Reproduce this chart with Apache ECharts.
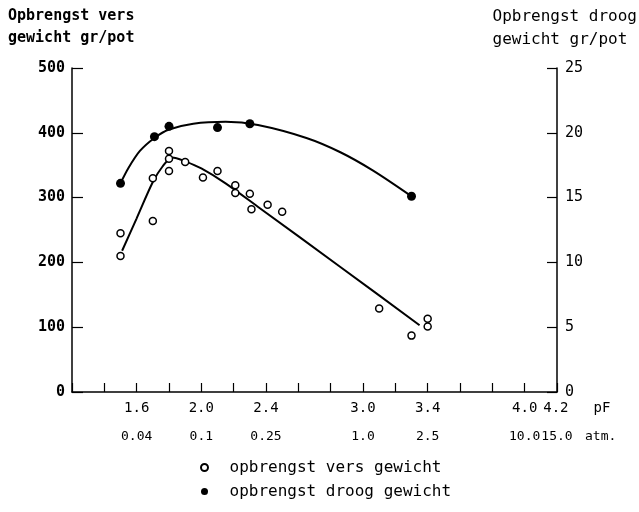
<!DOCTYPE html>
<html>
<head>
<meta charset="utf-8">
<script src="https://cdn.jsdelivr.net/npm/echarts@6/dist/echarts.min.js"></script>
<style>
  html, body { margin: 0; padding: 0; background: #fff; }
  #result { width: 639px; height: 512px; }
</style>
</head>
<body>
<div id="result"></div>
<script>
// ---- data ----
// opbrengst vers gewicht (gr/pot, left axis): [pF, value]
var versPoints = [
    [1.50, 245], [1.50, 210], [1.70, 330], [1.70, 264], [1.80, 372], [1.80, 360],
    [1.80, 341], [1.90, 355], [2.01, 331], [2.10, 341], [2.21, 319], [2.21, 307],
    [2.30, 306], [2.31, 282], [2.41, 289], [2.50, 278], [3.10, 129], [3.40, 113],
    [3.40, 101], [3.30, 87]
];
// opbrengst droog gewicht (gr/pot, right axis)
var droogPoints = [
    [1.50, 16.1], [1.71, 19.7], [1.80, 20.5], [2.10, 20.4], [2.30, 20.7], [3.30, 15.1]
];
// hand drawn curves
var versCurve = [
    [1.51, 218], [1.60, 268], [1.70, 324], [1.76, 348], [1.82, 362], [1.90, 356],
    [2.00, 345], [2.15, 322], [2.36, 284], [2.86, 193], [3.35, 103]
];
var droogCurve = [
    [1.50, 16.1], [1.55, 17.3], [1.62, 18.6], [1.71, 19.6], [1.80, 20.25], [1.95, 20.7],
    [2.15, 20.85], [2.35, 20.6], [2.65, 19.6], [2.86, 18.5], [3.06, 17.1], [3.30, 15.1]
];
// x axis labels (pF and atm rows)
var pfTicks = ['1.6', '2.0', '2.4', '3.0', '3.4', '4.0', '4.2'];
var atmTicks = ['0.04', '0.1', '0.25', '1.0', '2.5', '10.0', '15.0'];

var font = 'DejaVu Sans Mono';

var option = {
    backgroundColor: '#fff',
    animation: false,
    // ---- titles ----
    title: [
        {
            text: 'Opbrengst vers\ngewicht gr/pot',
            left: 8,
            top: 5,
            padding: 0,
            textStyle: { color: '#000', fontFamily: font, fontSize: 15, fontWeight: 'bold', lineHeight: 22 }
        },
        {
            text: 'Opbrengst droog\ngewicht gr/pot',
            right: 2,
            top: 5,
            padding: 0,
            textStyle: { color: '#000', fontFamily: font, fontSize: 16, fontWeight: 'normal', lineHeight: 23 }
        }
    ],
    // ---- legend ----
    legend: {
        orient: 'vertical',
        left: 195,
        top: 453,
        itemWidth: 40,
        itemHeight: 7,
        itemGap: 5,
        textStyle: { color: '#000', fontFamily: font, fontSize: 16, lineHeight: 19 },
        data: ['opbrengst vers gewicht', 'opbrengst droog gewicht']
    },
    grid: {
        left: 72,
        right: 82,
        top: 68,
        bottom: 120
    },
    // ---- x axes: pF row and atm row ----
    xAxis: [
        {
            type: 'value',
            min: 1.2,
            max: 4.2,
            interval: 0.2,
            name: '{v|4.2}{p|pF}',  // 4.2 sits left of the axis end, as in the figure
            nameLocation: 'end',
            nameGap: -17,
            nameTextStyle: {
                align: 'left',
                verticalAlign: 'top',
                padding: [8, 0, 0, 0],
                rich: {
                    v: { fontFamily: font, fontSize: 14, color: '#000', lineHeight: 16 },
                    p: { fontFamily: font, fontSize: 14, color: '#000', lineHeight: 16, padding: [0, 0, 0, 25] }
                }
            },
            axisLine: { lineStyle: { color: '#000', width: 1.5 } },
            axisTick: { inside: true, length: 9, lineStyle: { color: '#000', width: 1.2 } },
            axisLabel: {
                color: '#000',
                fontFamily: font,
                fontSize: 14,
                lineHeight: 16,
                margin: 8,
                formatter: function (v) {
                    var s = v.toFixed(1);
                    if (s === '4.2') return '';
                    return pfTicks.indexOf(s) < 0 ? '' : s;
                }
            },
            splitLine: { show: false }
        },
        {
            type: 'value',
            position: 'bottom',
            min: 1.2,
            max: 4.2,
            interval: 0.2,
            name: 'atm.',
            nameLocation: 'end',
            nameGap: 28,
            nameTextStyle: {
                color: '#000', fontFamily: font, fontSize: 13, lineHeight: 16,
                align: 'left', verticalAlign: 'top', padding: [37, 0, 0, 0]
            },
            axisLine: { show: false },
            axisTick: { show: false },
            axisLabel: {
                color: '#000',
                fontFamily: font,
                fontSize: 13,
                lineHeight: 16,
                margin: 37,
                showMaxLabel: true,
                formatter: function (v) {
                    var i = pfTicks.indexOf(v.toFixed(1));
                    return i < 0 ? '' : atmTicks[i];
                }
            },
            splitLine: { show: false }
        }
    ],
    // ---- y axes ----
    yAxis: [
        {
            type: 'value',
            min: 0,
            max: 500,
            interval: 100,
            position: 'left',
            axisLine: { show: true, lineStyle: { color: '#000', width: 1.5 } },
            axisTick: { show: true, inside: true, length: 11, lineStyle: { color: '#000', width: 1.2 } },
            axisLabel: { color: '#000', fontFamily: font, fontSize: 15, fontWeight: 'bold', margin: 7 },
            splitLine: { show: false }
        },
        {
            type: 'value',
            min: 0,
            max: 25,
            interval: 5,
            position: 'right',
            axisLine: { show: true, lineStyle: { color: '#000', width: 1.5 } },
            axisTick: { show: true, inside: true, length: 10, lineStyle: { color: '#000', width: 1.2 } },
            axisLabel: { color: '#000', fontFamily: font, fontSize: 15, margin: 8 },
            splitLine: { show: false }
        }
    ],
    // ---- series ----
    series: [
        {
            name: 'vers curve',
            type: 'line',
            yAxisIndex: 0,
            smooth: 0.3,
            showSymbol: false,
            silent: true,
            lineStyle: { color: '#000', width: 2 },
            z: 2,
            data: versCurve
        },
        {
            name: 'droog curve',
            type: 'line',
            yAxisIndex: 1,
            smooth: 0.3,
            showSymbol: false,
            silent: true,
            lineStyle: { color: '#000', width: 2 },
            z: 2,
            data: droogCurve
        },
        {
            name: 'opbrengst vers gewicht',
            type: 'scatter',
            yAxisIndex: 0,
            symbol: 'circle',
            symbolSize: 7,
            itemStyle: { color: '#fff', borderColor: '#000', borderWidth: 1.5, opacity: 1 },
            z: 5,
            data: versPoints
        },
        {
            name: 'opbrengst droog gewicht',
            type: 'scatter',
            yAxisIndex: 1,
            symbol: 'circle',
            symbolSize: 9,
            itemStyle: { color: '#000', opacity: 1 },
            z: 5,
            data: droogPoints
        }
    ]
};
var myResult = echarts.init(document.getElementById('result'));
myResult.setOption(option);
</script>
</body>
</html>
